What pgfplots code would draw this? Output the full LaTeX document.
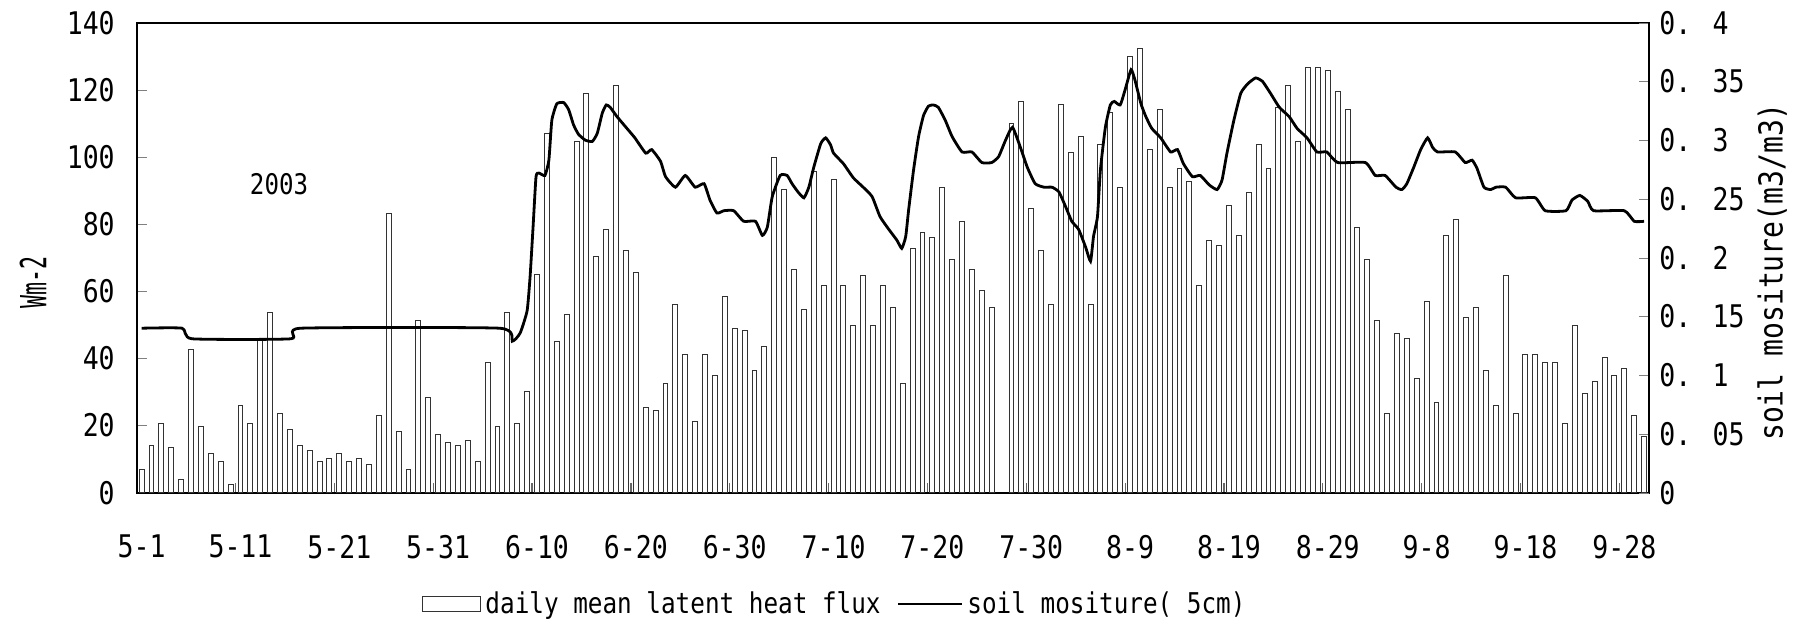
\documentclass[border=0pt]{standalone}
\usepackage{pgfplots}
\pgfplotsset{compat=1.18}
\usepackage{pgfplotstable}
\usepackage{fontspec}
\setmainfont{DejaVu Sans Mono}[FakeStretch=0.85]
\newfontfamily\narrowfont{DejaVu Sans Mono}[FakeStretch=0.6]
\newcommand\tk{\fontsize{15.6}{18}\selectfont}

\pgfplotstableread{
i v
0 7.0
1 14.2
2 20.5
3 13.4
4 3.9
5 42.7
6 19.8
7 11.7
8 9.3
9 2.3
10 26.0
11 20.5
12 45.7
13 53.7
14 23.6
15 18.9
16 14.2
17 12.6
18 9.3
19 10.1
20 11.7
21 9.3
22 10.1
23 8.5
24 22.9
25 83.2
26 18.2
27 7.0
28 51.3
29 28.4
30 17.4
31 15.0
32 14.2
33 15.7
34 9.3
35 38.8
36 19.8
37 53.7
38 20.5
39 30.0
40 64.9
41 106.9
42 45.1
43 53.1
44 104.6
45 118.9
46 70.4
47 78.5
48 121.2
49 72.0
50 65.6
51 25.3
52 24.5
53 32.5
54 56.1
55 41.1
56 21.3
57 41.1
58 34.9
59 58.5
60 49.0
61 48.3
62 36.3
63 43.5
64 99.8
65 90.3
66 66.4
67 54.5
68 95.6
69 61.7
70 93.3
71 61.7
72 49.9
73 64.8
74 49.9
75 61.7
76 55.3
77 32.5
78 72.8
79 77.6
80 76.0
81 91.0
82 69.5
83 80.7
84 66.4
85 60.1
86 55.3
88 110.0
89 116.4
90 84.7
91 72.0
92 56.1
93 115.6
94 101.4
95 106.1
96 56.1
97 103.8
98 113.3
99 91.0
100 129.9
101 132.3
102 102.3
103 114.1
104 91.0
105 96.5
106 92.7
107 61.7
108 75.2
109 73.7
110 85.5
111 76.7
112 89.4
113 103.8
114 96.5
115 114.8
116 121.2
117 104.6
118 126.7
119 126.7
120 125.9
121 119.6
122 114.1
123 79.0
124 69.5
125 51.3
126 23.6
127 47.5
128 45.8
129 34.0
130 56.9
131 26.8
132 76.7
133 81.4
134 52.1
135 55.3
136 36.3
137 26.0
138 64.8
139 23.6
140 41.1
141 41.1
142 38.8
143 38.8
144 20.5
145 49.9
146 29.6
147 33.2
148 40.3
149 34.9
150 37.1
151 22.9
152 16.6
}\fluxdata

\pgfplotstableread{
d s
0 0.140
4.1 0.140
5.1 0.131
15.1 0.131
16.1 0.140
36.2 0.140
37.5 0.129
38.3 0.136
39.0 0.155
39.3 0.184
39.6 0.226
39.9 0.269
40.2 0.272
40.8 0.270
41.2 0.283
41.5 0.317
42.0 0.331
42.7 0.332
43.2 0.326
43.7 0.313
44.2 0.305
44.9 0.300
45.6 0.299
46.1 0.306
46.6 0.323
47.0 0.330
47.4 0.328
48.1 0.320
49.1 0.310
49.9 0.302
51.0 0.289
51.6 0.292
52.5 0.282
53.0 0.269
54.0 0.260
55.0 0.270
56.0 0.260
56.9 0.263
57.5 0.249
58.2 0.238
58.9 0.240
59.9 0.240
60.9 0.231
62.1 0.231
62.8 0.219
63.3 0.226
63.8 0.252
64.6 0.270
65.3 0.270
65.8 0.263
66.4 0.256
67.0 0.251
67.5 0.260
68.0 0.277
68.7 0.297
69.2 0.302
69.7 0.296
70.0 0.289
71.0 0.280
72.0 0.268
73.0 0.260
73.9 0.252
74.7 0.235
75.6 0.224
76.4 0.215
76.9 0.208
77.3 0.218
77.6 0.241
78.1 0.275
78.6 0.303
79.1 0.321
79.6 0.329
80.1 0.330
80.6 0.328
81.3 0.317
82.0 0.303
83.0 0.290
84.0 0.290
85.0 0.281
86.0 0.281
86.7 0.286
87.4 0.300
88.1 0.311
88.9 0.294
89.6 0.277
90.4 0.263
91.3 0.260
92.1 0.260
92.8 0.256
93.5 0.243
94.1 0.231
94.8 0.224
95.5 0.209
96.0 0.197
96.3 0.218
96.7 0.235
97.0 0.275
97.5 0.311
98.0 0.330
98.4 0.333
99.0 0.330
99.5 0.343
100.1 0.360
100.5 0.351
101.1 0.331
101.6 0.320
102.2 0.310
103.1 0.302
104.1 0.290
104.8 0.292
105.4 0.280
106.3 0.269
107.1 0.270
108.0 0.262
108.8 0.258
109.3 0.266
109.8 0.289
110.5 0.317
111.2 0.340
111.9 0.348
112.7 0.353
113.4 0.350
114.2 0.340
115.1 0.328
116.1 0.320
116.9 0.310
117.9 0.302
118.9 0.290
119.9 0.290
121.0 0.281
123.8 0.281
124.8 0.270
125.8 0.270
126.9 0.260
127.5 0.258
128.0 0.263
128.7 0.277
129.4 0.292
130.1 0.302
130.6 0.294
131.1 0.290
132.9 0.290
133.9 0.281
134.6 0.283
135.1 0.276
135.8 0.260
136.5 0.258
137.0 0.260
138.0 0.260
139.0 0.251
141.0 0.251
142.0 0.240
144.1 0.240
144.7 0.249
145.5 0.253
146.3 0.248
146.9 0.240
150.0 0.240
151.0 0.231
152.0 0.231
}\soildata

\begin{document}
\begin{tikzpicture}
\begin{axis}[
  name=main,
  scale only axis, width=756.15pt, height=235pt,
  xmin=-0.5, xmax=152.5, ymin=0, ymax=140,
  axis line style={line width=1pt},
  tick align=inside, major tick length=5pt,
  ytick={0,20,40,60,80,100,120,140},
  yticklabels={0,20,40,60,80,100,120,140},
  ytick pos=left, xtick pos=bottom,
  yticklabel style={font=\tk, inner sep=0pt, xshift=-10.8pt},
  xtick={9.5,19.5,...,149.5},
  xticklabels={},
  xtick style={draw=black!60, line width=0.6pt},
  extra x ticks={0,10,...,150},
  extra x tick labels={5-1,5-11,5-21,5-31,6-10,6-20,6-30,7-10,7-20,7-30,8-9,8-19,8-29,9-8,9-18,9-28},
  extra x tick style={major tick length=0pt},
  xticklabel style={font=\tk, anchor=center, yshift=-27pt},
  ylabel={\narrowfont\fontsize{18}{20}\selectfont Wm-2},
  ylabel style={at={(rel axis cs:-0.0686,0.448)}, anchor=center},
]
\addplot[ybar, bar width=0.5, fill=white, draw=black!80, line width=0.5pt] table[x=i, y=v] {\fluxdata};
\node[font=\fontsize{14.2}{16}\selectfont] at (axis cs:13.9,91.8) {2003};
\end{axis}
\begin{axis}[
  scale only axis, width=756.15pt, height=235pt,
  xmin=-0.5, xmax=152.5, ymin=0, ymax=0.4,
  axis y line*=right, axis x line=none,
  axis line style={line width=1pt},
  tick align=inside, major tick length=5pt,
  ytick={0,0.05,0.1,0.15,0.2,0.25,0.3,0.35,0.4},
  yticklabels={0,0. 05,0. 1,0. 15,0. 2,0. 25,0. 3,0. 35,0. 4},
  yticklabel style={font=\tk, inner sep=0pt, xshift=5pt},
  ylabel={\fontsize{16.5}{18}\selectfont soil mositure(m3/m3)},
  ylabel style={at={(rel axis cs:1.0815,0.4696)}, anchor=center},
  legend columns=2,
  legend style={at={(0.1887,-0.2368)}, anchor=west, draw=none, fill=none,
    inner sep=0pt, font=\fontsize{14.3}{16}\selectfont,
    /tikz/every even column/.append style={column sep=6pt}},
]
\addlegendimage{legend image code/.code={\draw[black!80,line width=0.5pt,fill=white] (0pt,-3.9pt) rectangle (29pt,3.9pt);}}
\addlegendentry{daily mean latent heat flux}
\addplot[black, line width=1.4pt, smooth, tension=0.3,
  legend image code/.code={\draw[black,line width=1.4pt] (0pt,0pt) -- (32pt,0pt);}]
  table[x=d, y=s] {\soildata};
\addlegendentry{soil mositure( 5cm)}
\end{axis}
\pgfresetboundingbox
\useasboundingbox (-68.35pt,-65.15pt) rectangle (835.15pt,246.35pt);
\end{tikzpicture}
\end{document}
